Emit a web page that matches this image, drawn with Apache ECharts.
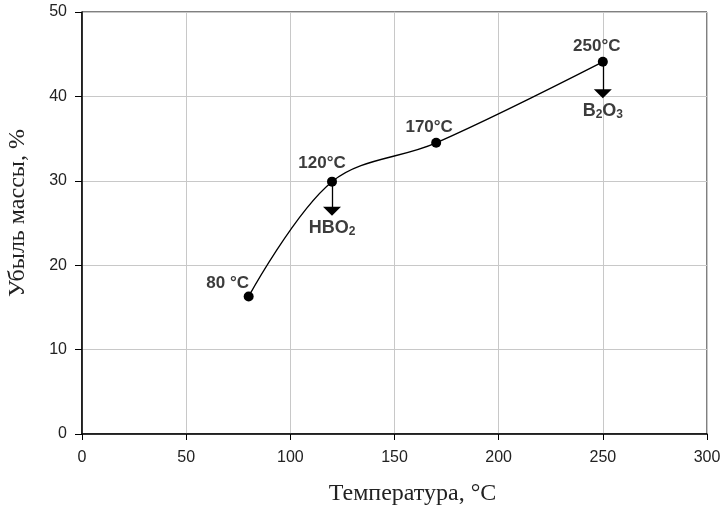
<!DOCTYPE html>
<html>
<head>
<meta charset="utf-8">
<script src="https://cdn.jsdelivr.net/npm/echarts@6/dist/echarts.min.js"></script>
<style>
  html, body { margin: 0; padding: 0; background: #fff; }
  #chart { width: 726px; height: 513px; }
</style>
</head>
<body>
<div id="chart"></div>
<script>
// температура, °C и убыль массы, %
const temps = [80, 120, 170, 250];
const massLoss = [16.3, 29.9, 34.5, 44.1];
const pointLabels = ['80 °C', '120°C', '170°C', '250°C'];
const labelOffsets = [[-21, 5], [-10, 0], [-7, 3], [-6, 3]];

// стрелки: начало (точка) и конец, подпись вещества
const arrowX = [120, 250];
const arrowFrom = [29.9, 44.1];
const arrowTo = [26.4, 40.3];
const arrowText = ['{m|HBO}{s|2}', '{m|B}{s|2}{m|O}{s|3}'];

const xTicks = { min: 0, max: 300, interval: 50 };
const yTicks = { min: 0, max: 50, interval: 10 };

const chart = echarts.init(document.getElementById('chart'));

const labelStyle = {
  color: '#3c3c3c',
  fontFamily: 'Liberation Sans, Arial, sans-serif',
  fontSize: 17,
  fontWeight: 'bold'
};

chart.setOption({
  animation: false,
  grid: {
    left: 82,
    right: 19,
    top: 12,
    bottom: 79,
    outerBoundsMode: 'none',
    show: true,
    borderColor: '#000',
    borderWidth: 1
  },
  xAxis: {
    type: 'value',
    min: xTicks.min,
    max: xTicks.max,
    interval: xTicks.interval,
    name: 'Температура, °С',
    nameLocation: 'middle',
    nameGap: 48,
    nameTextStyle: {
      fontFamily: 'Liberation Serif, Times New Roman, serif', fontSize: 24, color: '#222',
      padding: [0, 0, 0, 36]
    },
    axisLine: { lineStyle: { color: '#000', width: 1.5 } },
    axisTick: { show: true, length: 6, lineStyle: { color: '#000' } },
    axisLabel: { color: '#222', fontFamily: 'Liberation Sans, Arial, sans-serif', fontSize: 16, margin: 16 },
    splitLine: { show: true, lineStyle: { color: '#c8c8c8', width: 1 } }
  },
  yAxis: {
    type: 'value',
    min: yTicks.min,
    max: yTicks.max,
    interval: yTicks.interval,
    name: 'Убыль массы, %',
    nameLocation: 'middle',
    nameGap: 52,
    nameTextStyle: {
      fontFamily: 'Liberation Serif, Times New Roman, serif', fontSize: 24, color: '#222',
      padding: [0, 0, 0, 20]
    },
    axisLine: { show: true, lineStyle: { color: '#000', width: 1.5 } },
    axisTick: { show: true, length: 7, lineStyle: { color: '#000' } },
    axisLabel: { color: '#222', fontFamily: 'Liberation Sans, Arial, sans-serif', fontSize: 16, margin: 15 },
    splitLine: { show: true, lineStyle: { color: '#c8c8c8', width: 1 } }
  },
  series: [{
    type: 'line',
    data: temps.map((t, i) => ({
      value: [t, massLoss[i]],
      label: {
        show: true,
        position: 'top',
        offset: labelOffsets[i],
        formatter: pointLabels[i],
        ...labelStyle
      }
    })),
    smooth: 0.35,
    symbol: 'circle',
    symbolSize: 10,
    itemStyle: { color: '#000' },
    lineStyle: { color: '#000', width: 1.3 },
    markLine: {
      silent: true,
      symbol: ['none', 'triangle'],
      symbolSize: [18, 9],
      lineStyle: { color: '#000', width: 1.3, type: 'solid' },
      label: {
        show: true,
        position: 'end',
        distance: 7,
        rich: {
          m: { ...labelStyle, fontSize: 18 },
          s: { ...labelStyle, fontSize: 12, padding: [8, 0, 0, 0] }
        }
      },
      data: arrowX.map((x, i) => [
        { coord: [x, arrowFrom[i]] },
        { coord: [x, arrowTo[i]], label: { formatter: arrowText[i] } }
      ])
    }
  }]
});
</script>
</body>
</html>
